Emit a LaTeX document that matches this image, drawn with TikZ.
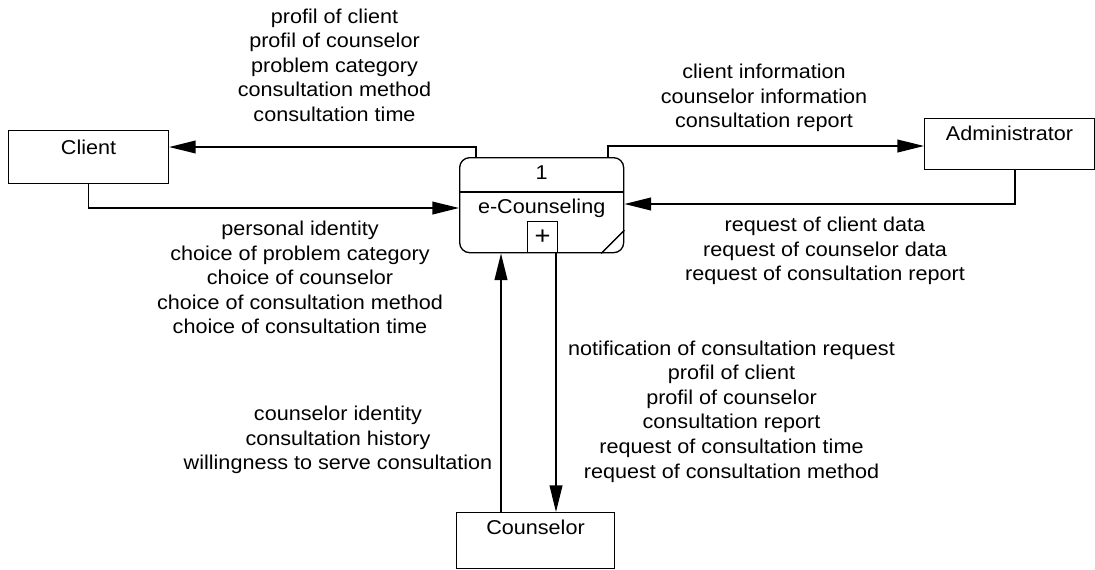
\documentclass[tikz,border=0pt]{standalone}
\usepackage{fontspec}
\setmainfont{Liberation Sans}[FakeStretch=1.08]
\usetikzlibrary{arrows.meta,calc}
\begin{document}
\begin{tikzpicture}[x=0.75pt,y=-0.75pt,
  every node/.style={font=\fontsize{15pt}{18.4pt}\selectfont},
  ent/.style={draw, line width=0.8pt, inner sep=0, anchor=north west},
  entlbl/.style={anchor=north, inner sep=0, yshift=-#1},
  flow/.style={line width=1.4pt, -{Triangle[length=20pt,width=9.5pt]}},
  lbl/.style={align=center, inner sep=0}]
\useasboundingbox (0,0) rectangle (1095,569);

% external entities
\node[ent, minimum width=120pt, minimum height=39.75pt,
  label={[entlbl=7pt]north:Client}] (client) at (8,130) {};
\node[ent, minimum width=127.5pt, minimum height=38.25pt,
  label={[entlbl=6pt]north:Administrator}] (admin) at (924,118) {};
\node[ent, minimum width=118.5pt, minimum height=42pt,
  label={[entlbl=6pt]north:Counselor}] (couns) at (456,512) {};

% process
\node[draw, line width=1pt, rounded corners=7.5pt, inner sep=0,
  minimum width=123pt, minimum height=71.25pt, anchor=north west] (proc) at (459,157) {};
\draw[line width=1pt] ($(proc.north west)+(0,35)$) -- ($(proc.north east)+(0,35)$);
\node (pnum) at ($(proc.north)+(0,16)$) {1};
\node (pname) at ($(proc.north)+(0,51)$) {e-Counseling};
\node[draw, line width=0.8pt, inner sep=0, minimum width=22.5pt, minimum height=23.25pt,
  anchor=south west, font=\fontsize{19pt}{20pt}\selectfont] (plus) at ($(proc.south west)+(68,0)$) {+};
\draw[line width=1pt] ($(proc.south east)+(-23,0)$) -- ($(proc.south east)+(0,-23)$);

% helper levels
\coordinate (ya) at (0,147);
\coordinate (yb) at (0,208);
\coordinate (yc) at (0,146);
\coordinate (yd) at (0,204);

% connectors
\draw[flow] ($(proc.north west)+(17,0)$) |- (client.east |- ya);
\draw[flow] (client.south) |- (proc.west |- yb);
\draw[flow] ($(proc.north west)+(149,0)$) |- (admin.west |- yc);
\draw[flow] ($(admin.south west)+(91,0)$) |- (proc.east |- yd);
\draw[flow] ($(couns.north west)+(45,0)$) -- ($(proc.south west)+(42,0)$);
\draw[flow] ($(proc.south west)+(97,0)$) -- ($(couns.north west)+(100,0)$);

% labels
\node[lbl] (la) at (334.5,65) {profil of client\\profil of counselor\\problem category\\consultation method\\consultation time};
\node[lbl] (lb) at (764,98) {client information\\counselor information\\consultation report};
\node[lbl] (lc) at (300,277.5) {personal identity\\choice of problem category\\choice of counselor\\choice of consultation method\\choice of consultation time};
\node[lbl] (ld) at (825,251) {request of client data\\request of counselor data\\request of consultation report};
\node[lbl] (le) at (338,440) {counselor identity\\consultation history\\willingness to serve consultation};
\node[lbl] (lf) at (731.5,411.5) {notification of consultation request\\profil of client\\profil of counselor\\consultation report\\request of consultation time\\request of consultation method};
\end{tikzpicture}
\end{document}
